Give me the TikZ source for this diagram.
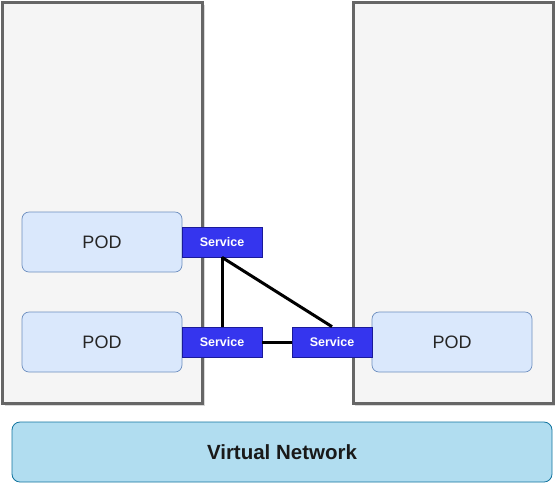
\documentclass[tikz,border=0pt]{standalone}
\usepackage{fontspec}
\setmainfont{Liberation Sans}
\usetikzlibrary{shadows}
\definecolor{boxfill}{HTML}{F5F5F5}
\definecolor{boxline}{HTML}{666666}
\definecolor{podfill}{HTML}{DAE8FC}
\definecolor{podline}{HTML}{6C8EBF}
\definecolor{svcfill}{HTML}{3535EE}
\definecolor{svcline}{HTML}{1A1A99}
\definecolor{netfill}{HTML}{B1DDF0}
\definecolor{netline}{HTML}{10739E}
\tikzset{
  hostbox/.style={draw=boxline, fill=boxfill, line width=3pt, minimum width=200pt, minimum height=401pt, inner sep=0pt,
    drop shadow={shadow xshift=2pt, shadow yshift=-2pt, fill=black!25, opacity=0.6}},
  podbox/.style={draw=podline, fill=podfill, rounded corners=7pt, line width=0.7pt, minimum width=160pt, minimum height=60pt, inner sep=0pt, font=\fontsize{18}{18}\selectfont, text=black!85},
  svcbox/.style={draw=svcline, fill=svcfill, line width=0.7pt, minimum width=80pt, minimum height=30pt, inner sep=0pt, font=\bfseries\fontsize{12.5}{12.5}\selectfont, text=white},
  netbox/.style={draw=netline, fill=netfill, rounded corners=8pt, line width=0.8pt, minimum width=540pt, minimum height=60pt, inner sep=0pt, font=\bfseries\fontsize{20.5}{20.5}\selectfont, text=black!90},
  link/.style={line width=3pt, black}
}
\begin{document}
\begin{tikzpicture}[x=1pt,y=-1pt]
\useasboundingbox (0,0) rectangle (556,483);
\node[hostbox] (hostL) at (102.5,203) {};
\node[hostbox] (hostR) at (453,203) {};
\node[podbox] (pod1) at (102,242) {POD};
\node[podbox] (pod2) at (102,342) {POD};
\node[podbox] (pod3) at (452,342) {POD};
\node[svcbox] (svc1) at (222,242) {Service};
\node[svcbox] (svc2) at (222,342) {Service};
\node[svcbox] (svc3) at (332,342) {Service};
\draw[link] (svc1.south) -- (svc2.north);
\draw[link] (svc1.south) -- (svc3.north);
\draw[link] (svc2.east) -- (svc3.west);
\node[netbox] (net) at (282,452) {Virtual Network};
\end{tikzpicture}
\end{document}
